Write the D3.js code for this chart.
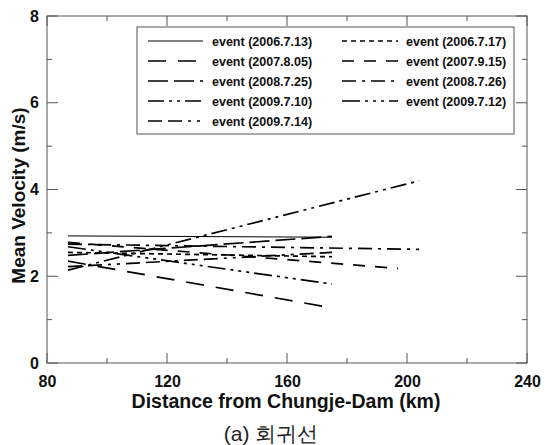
<!DOCTYPE html>
<html><head><meta charset="utf-8">
<script src="https://cdn.jsdelivr.net/npm/d3@7"></script>
<style>body{margin:0;background:#fff}svg{display:block}text{font-family:"Liberation Sans",Arial,sans-serif}</style>
</head><body><svg id="c" width="545" height="445"></svg>
<script>
const events = ["event (2006.7.13)","event (2006.7.17)","event (2007.8.05)","event (2007.9.15)","event (2008.7.25)","event (2008.7.26)","event (2009.7.10)","event (2009.7.12)","event (2009.7.14)"];
const startKm = [87,87,87,87,87,87,87,87,87];
const endKm   = [175,175,175,197,175,204,204,175,175];
const startV  = [2.93,2.55,2.35,2.78,2.48,2.74,2.14,2.68,2.22];
const endV    = [2.90,2.45,1.27,2.18,2.92,2.62,4.20,1.82,2.55];
const dashes  = ["", "5,4", "18,12", "12,10", "20,6", "14,6,3,6", "16,5,3,5,3,5", "18,5,3,5,3,5,3,5", "14,6,14,6,3,6,3,6"];
const widths  = [1,1.7,1.7,1.7,1.7,1.7,1.7,1.7,1.7];
const xTicks = [80,120,160,200,240];
const yTicks = [0,2,4,6,8];

const svg = d3.select("#c");
const L=47,R=527,T=16,B=363;
const x = d3.scaleLinear().domain([80,240]).range([L,R]);
const y = d3.scaleLinear().domain([0,8]).range([B,T]);
const axisCol="#555";

svg.append("rect").attr("x",L).attr("y",T).attr("width",R-L).attr("height",B-T)
  .attr("fill","none").attr("stroke",axisCol).attr("stroke-width",1);

const gx = svg.append("g").attr("transform",`translate(0,${B})`)
  .call(d3.axisBottom(x).tickValues(xTicks).tickSize(0).tickPadding(13).tickFormat(d3.format("d")));
gx.select(".domain").remove();
gx.selectAll("text").attr("font-size",16).attr("font-weight","bold").attr("fill","#111");
const gy = svg.append("g").attr("transform",`translate(${L},0)`)
  .call(d3.axisLeft(y).tickValues(yTicks).tickSize(0).tickPadding(8).tickFormat(d3.format("d")));
gy.select(".domain").remove();
gy.selectAll("text").attr("font-size",16).attr("font-weight","bold").attr("fill","#111");

const tk = svg.append("g").attr("stroke",axisCol).attr("stroke-width",1);
d3.range(80,241,20).forEach(v=>{
  const len = v%40===0?10:5;
  tk.append("line").attr("x1",x(v)).attr("x2",x(v)).attr("y1",B).attr("y2",B-len);
  tk.append("line").attr("x1",x(v)).attr("x2",x(v)).attr("y1",T).attr("y2",T+len);
});
d3.range(0,8.1,1).forEach(v=>{
  const len = v%2===0?11:5;
  tk.append("line").attr("x1",L).attr("x2",L+len).attr("y1",y(v)).attr("y2",y(v));
  tk.append("line").attr("x1",R).attr("x2",R-len).attr("y1",y(v)).attr("y2",y(v));
});

const line = d3.line().x(d=>x(d[0])).y(d=>y(d[1]));
events.forEach((e,i)=>{
  svg.append("path").datum([[startKm[i],startV[i]],[endKm[i],endV[i]]])
    .attr("d",line).attr("fill","none").attr("stroke","#000")
    .attr("stroke-width",widths[i]).attr("stroke-dasharray",dashes[i]||null);
});

const lg = svg.append("g");
lg.append("rect").attr("x",137).attr("y",27).attr("width",377).attr("height",107)
  .attr("fill","#fff").attr("stroke",axisCol).attr("stroke-width",1);
events.forEach((e,i)=>{
  const col = i%2, row = Math.floor(i/2);
  const yy = 41 + row*20;
  const x0 = col===0?148:342, x1 = col===0?203:398, tx = col===0?212:406;
  lg.append("line").attr("x1",x0).attr("x2",x1).attr("y1",yy).attr("y2",yy)
    .attr("stroke","#000").attr("stroke-width",widths[i]).attr("stroke-dasharray",dashes[i]||null);
  lg.append("text").attr("x",tx).attr("y",yy).attr("dy","0.36em").attr("font-size",12.5)
    .attr("font-weight","bold").attr("fill","#111").text(e);
});

svg.append("text").attr("x",286).attr("y",408).attr("text-anchor","middle")
  .attr("font-size",19.5).attr("font-weight","bold").attr("fill","#111").text("Distance from Chungje-Dam (km)");
svg.append("text").attr("transform",`translate(25,${(T+B)/2+6}) rotate(-90)`).attr("text-anchor","middle")
  .attr("font-size",19).attr("font-weight","bold").attr("fill","#111").text("Mean Velocity (m/s)");
svg.append("text").attr("x",271).attr("y",441).attr("text-anchor","middle")
  .attr("font-size",21).attr("fill","#222").attr("font-family","'Noto Sans CJK KR',sans-serif").text("(a) 회귀선");
</script></body></html>
